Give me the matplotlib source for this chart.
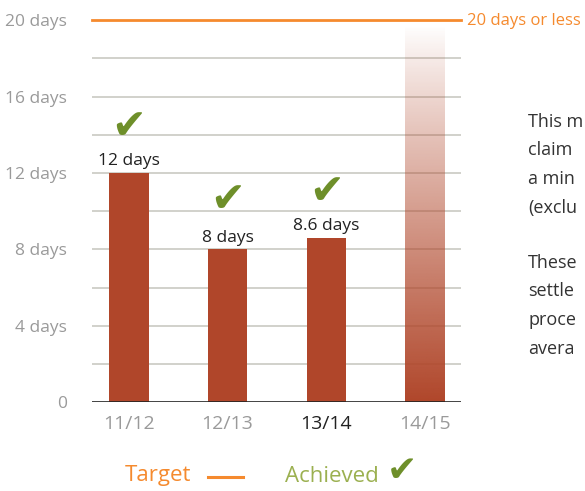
import numpy as np
import matplotlib.pyplot as plt

# data
years = ['11/12', '12/13', '13/14', '14/15']
days = [12, 8, 8.6]
day_labels = ['12 days', '8 days', '8.6 days']
check_heights = [14.4, 10.6, 11.0]
target = 20
ytick_vals = [0, 4, 8, 12, 16, 20]
ytick_labels = ['0', '4 days', '8 days', '12 days', '16 days', '20 days']
side_text_1 = ['This m', 'claim', 'a min', '(exclu']
side_text_2 = ['These', 'settle', 'proce', 'avera']

bar_col = '#B0462A'
orange = '#F58A2E'
green = '#6E8F2A'
font = 'Open Sans'

fig = plt.figure(figsize=(5.85, 4.91), dpi=100)
ax = fig.add_axes([0.157, 0.181, 0.631, 0.778])

x = np.arange(len(years))
w = 0.4

# grid lines every 2 days
for g in range(2, 20, 2):
    ax.axhline(g, color='#C9CAC2', lw=1.2, zorder=0)

ax.bar(x[:3], days, width=w, color=bar_col, zorder=2)

# projected year: fading bar up to the target
grad = np.linspace(0, 1, 256).reshape(-1, 1)
rgba = np.zeros((256, 1, 4))
rgba[..., :3] = plt.matplotlib.colors.to_rgb(bar_col)
rgba[..., 3] = grad ** 0.9
ax.imshow(rgba, extent=[x[3] - w / 2, x[3] + w / 2, 0, target - 0.3],
          aspect='auto', origin='upper', zorder=2)

ax.axhline(target, color=orange, lw=2, zorder=3, clip_on=False)
ax.axhline(0, color='#222222', lw=1.2, zorder=3)

for i, (v, lab) in enumerate(zip(days, day_labels)):
    ax.text(x[i], v + 0.2, lab, ha='center', va='bottom', fontsize=12.5,
            color='#222222', family=font)
for i, h in enumerate(check_heights):
    ax.text(x[i], h, '\u2714', ha='center', va='center', fontsize=30,
            color=green, family='DejaVu Sans')

ax.set_xlim(-0.375, 3.365)
ax.set_ylim(0, 20)
ax.set_xticks(x)
ax.set_xticklabels(years, fontsize=14, family=font)
for i, t in enumerate(ax.get_xticklabels()):
    t.set_color('#222222' if i == 2 else '#9A9A9A')
ax.set_yticks(ytick_vals)
ax.set_yticklabels(ytick_labels, fontsize=12.5, color='#9A9A9A', family=font)
ax.tick_params(length=0, pad=18, axis='y')
ax.tick_params(length=0, pad=9, axis='x')
for s in ax.spines.values():
    s.set_visible(False)

fig.text(467 / 585, 1 - 21 / 491, '20 days or less', color=orange, fontsize=12,
         ha='left', va='center', family=font)

# side text (cut off at the right edge in the original)
for i, line in enumerate(side_text_1):
    fig.text(528 / 585, 1 - (122 + 28.5 * i) / 491, line, fontsize=13,
             color='#333333', va='center', ha='left', family=font)
for i, line in enumerate(side_text_2):
    fig.text(528 / 585, 1 - (263 + 28.5 * i) / 491, line, fontsize=13,
             color='#333333', va='center', ha='left', family=font)

# legend
fig.text(125 / 585, 1 - 476 / 491, 'Target', color=orange, fontsize=16,
         va='center', ha='left', family=font)
fig.add_artist(plt.Line2D([208 / 585, 243 / 585], [1 - 477 / 491] * 2,
                          color=orange, lw=2.2))
fig.text(285 / 585, 1 - 476 / 491, 'Achieved', color='#9BB050', fontsize=16,
         va='center', ha='left', family=font)
fig.text(402 / 585, 1 - 471 / 491, '\u2714', color=green, fontsize=26,
         va='center', ha='center', family='DejaVu Sans')

fig.savefig('out.png', dpi=100)
